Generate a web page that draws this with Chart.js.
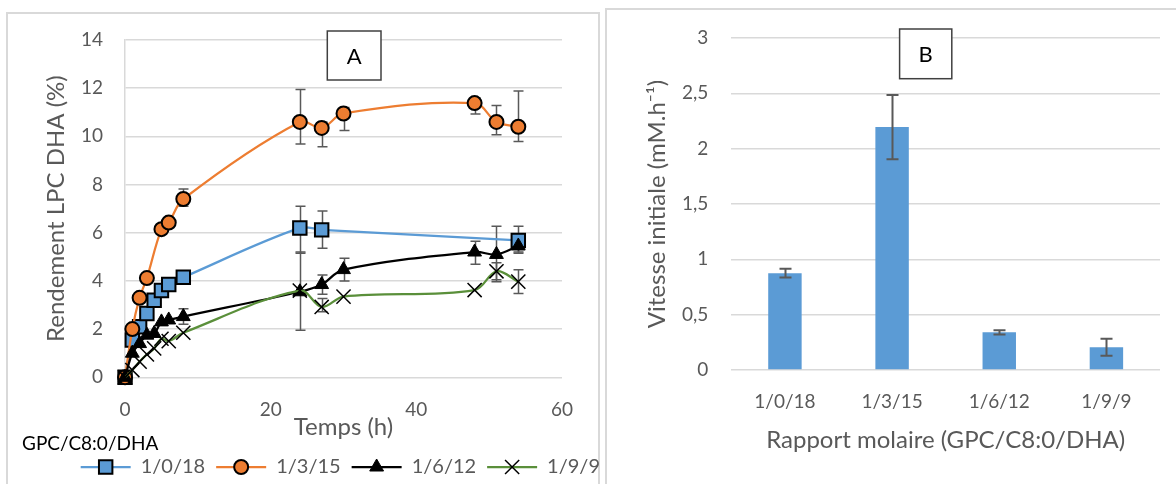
<!DOCTYPE html>
<html><head><meta charset="utf-8">
<script src="https://cdn.jsdelivr.net/npm/chart.js@4/dist/chart.umd.min.js"></script>
<style>
html,body{margin:0;padding:0;background:#fff;overflow:hidden;width:1176px;height:484px;position:relative;}
.panel{position:absolute;border:2px solid #d9d9d9;box-sizing:border-box;}
#panelA{left:6px;top:12px;width:594px;height:500px;}
#panelB{left:605px;top:8px;width:600px;height:500px;}
canvas{position:absolute;}
#cA{left:7px;top:13px;}
#cB{left:606px;top:9px;}
</style></head>
<body>
<div class="panel" id="panelA"></div>
<div class="panel" id="panelB"></div>
<canvas id="cA" width="604" height="474"></canvas>
<canvas id="cB" width="570" height="475"></canvas>
<script>
// ---- Panel A data (Temps h / Rendement LPC DHA %) ----
const seriesNames = ['1/0/18','1/3/15','1/6/12','1/9/9'];
const tBlue = [0,1,2,3,4,5,6,8,24,27,54];
const yBlue = [0,1.55,2.1,2.65,3.2,3.6,3.85,4.15,6.2,6.12,5.68];
const errBlue = [null,null,null,null,null,null,null,null,[5.15,7.1],[5.36,6.9],[5.15,6.27]];
const tOrange = [0,1,2,3,5,6,8,24,27,30,48,51,54];
const yOrange = [0,2.0,3.3,4.12,6.15,6.42,7.4,10.6,10.35,10.95,11.38,10.6,10.4];
const errOrange = [null,null,null,null,null,null,[7.1,7.82],[9.68,11.95],[9.57,10.6],[10.24,11.2],[10.93,11.6],[10.07,11.28],[9.79,11.88]];
const tBlack = [0,1,2,3,4,5,6,8,24,27,30,48,51,54];
const yBlack = [0,1.0,1.4,1.75,1.82,2.3,2.38,2.52,3.55,3.85,4.47,5.2,5.1,5.45];
const errBlack = [null,null,null,null,null,null,null,[2.2,2.85],[1.95,5.2],[3.45,4.25],[4.0,4.94],[4.69,5.65],[3.97,6.27],[5.2,5.7]];
const tGreen = [0,1,2,3,4,5,6,8,24,27,30,48,51,54];
const yGreen = [0,0.3,0.65,0.95,1.2,1.6,1.5,1.85,3.6,2.92,3.35,3.62,4.4,3.97];
const errGreen = [null,null,null,null,null,null,null,null,null,[2.72,3.27],null,null,[4.05,4.75],[3.48,4.46]];
const legendTitle = 'GPC/C8:0/DHA';

// ---- Panel B data ----
const ratios = ['1/0/18','1/3/15','1/6/12','1/9/9'];
const vitesse = [0.875,2.195,0.34,0.205];
const vitesseErr = [0.04,0.29,0.02,0.077];

const FONT = 'Lato';
const GREY = '#595959';
const GRID = '#d9d9d9';

function pts(t,y){ return t.map((v,i)=>({x:v,y:y[i]})); }

const errorBars = {
  id:'errorBars',
  _draw(chart, opts){
    const ctx = chart.ctx, ys = chart.scales.y;
    ctx.save();
    ctx.strokeStyle = opts.color || GREY;
    ctx.lineWidth = opts.width || 1.5;
    chart.data.datasets.forEach((ds,di)=>{
      if(!ds.errors) return;
      const meta = chart.getDatasetMeta(di);
      ds.errors.forEach((e,i)=>{
        if(!e) return;
        const el = meta.data[i];
        const px = Math.round(el.x)+0.5;
        const lo = ys.getPixelForValue(e[0]), hi = ys.getPixelForValue(e[1]);
        const c = opts.cap || 5;
        ctx.beginPath();
        ctx.moveTo(px,lo); ctx.lineTo(px,hi);
        ctx.moveTo(px-c,lo); ctx.lineTo(px+c,lo);
        ctx.moveTo(px-c,hi); ctx.lineTo(px+c,hi);
        ctx.stroke();
      });
    });
    ctx.restore();
  },
  beforeDatasetsDraw(chart,args,opts){ if(opts.layer==='below') this._draw(chart,opts); },
  afterDatasetsDraw(chart,args,opts){ if(opts.layer!=='below') this._draw(chart,opts); }
};

const labelBox = {
  id:'labelBox',
  afterDraw(chart,args,opts){
    if(!opts.text) return;
    const ctx = chart.ctx;
    ctx.save();
    ctx.fillStyle = '#fff';
    ctx.fillRect(opts.x, opts.y, opts.w, opts.h);
    ctx.strokeStyle = '#404040';
    ctx.lineWidth = 1.5;
    ctx.strokeRect(opts.x, opts.y, opts.w, opts.h);
    ctx.fillStyle = '#000';
    ctx.font = '22px ' + FONT;
    ctx.textAlign = 'center';
    ctx.textBaseline = 'middle';
    ctx.fillText(opts.text, opts.x + opts.w/2, opts.y + opts.h/2 + 1);
    ctx.restore();
  }
};

function drawMarker(ctx, ds, x, y){
  const o = {pointStyle:ds.pointStyle, radius:ds.pointRadius, rotation:0, borderWidth:ds.pointBorderWidth};
  ctx.fillStyle = ds.pointBackgroundColor;
  ctx.strokeStyle = ds.pointBorderColor;
  ctx.lineWidth = ds.pointBorderWidth;
  Chart.helpers.drawPoint(ctx, o, x, y);
}

const legendMarks = {
  id:'legendMarks',
  afterDraw(chart){
    const lg = chart.legend;
    if(!lg || !lg.legendHitBoxes) return;
    const ctx = chart.ctx;
    const bw = lg.options.labels.boxWidth;
    lg.legendHitBoxes.forEach((hb,i)=>{
      const ds = chart.data.datasets[i];
      const cy = hb.top + hb.height/2;
      ctx.save();
      ctx.strokeStyle = ds.borderColor;
      ctx.lineWidth = ds.borderWidth;
      ctx.beginPath(); ctx.moveTo(hb.left, cy); ctx.lineTo(hb.left + bw, cy); ctx.stroke();
      drawMarker(ctx, ds, hb.left + bw/2, cy);
      ctx.restore();
    });
  }
};

function lineDs(label, t, y, err, color, style, radius, fill, bw, order){
  return {
    label, data: pts(t,y), errors: err,
    borderColor: color, borderWidth: 2.25, tension: 0.35, fill:false,
    pointStyle: style, pointRadius: radius, pointHoverRadius: radius,
    pointBackgroundColor: fill, pointBorderColor: '#000', pointBorderWidth: bw,
    clip: false, order
  };
}

function noPadV(s){ s.paddingTop = 0; s.paddingBottom = 0; }
function noPadH(s){ s.paddingLeft = 0; s.paddingRight = 0; }

function build(){
  const tickFont = {family:FONT, size:19};
  const titleFont = {family:FONT, size:24, lineHeight:1};

  new Chart(document.getElementById('cA'), {
    type:'line',
    data:{ datasets:[
      lineDs(seriesNames[0], tBlue, yBlue, errBlue, '#5B9BD5', 'rect', 9.5, '#5B9BD5', 2, 4),
      lineDs(seriesNames[1], tOrange, yOrange, errOrange, '#ED7D31', 'circle', 7, '#ED7D31', 2, 3),
      lineDs(seriesNames[2], tBlack, yBlack, errBlack, '#000000', 'triangle', 8, '#000000', 1, 2),
      lineDs(seriesNames[3], tGreen, yGreen, errGreen, '#5A8F3A', 'crossRot', 10, '#000000', 1.5, 1)
    ]},
    options:{
      responsive:false, animation:false, devicePixelRatio:1,
      layout:{padding:{left:15,right:0,top:27,bottom:0}},
      scales:{
        x:{type:'linear', min:0, max:60,
           ticks:{stepSize:20, padding:21, color:GREY, font:tickFont},
           grid:{display:false, drawTicks:false}, border:{display:false},
           title:{display:true, text:'Temps (h)', color:GREY, font:titleFont, padding:{top:-26.8,bottom:0}},
           afterFit: noPadH},
        y:{min:0, max:14,
           ticks:{stepSize:2, padding:22, color:GREY, font:tickFont},
           grid:{color:GRID, lineWidth:1.5, drawTicks:false}, border:{display:true, color:GRID, width:1.5},
           title:{display:true, text:'Rendement LPC DHA (%)', color:GREY, font:titleFont, padding:{top:22.5,bottom:-9.5}},
           afterFit: noPadV},
        yR:{position:'right', display:true, grid:{display:false, drawTicks:false}, border:{display:false},
            ticks:{display:false}, afterFit(s){ s.width = 49; s.paddingTop = 0; s.paddingBottom = 0; }}
      },
      plugins:{
        legend:{display:true, position:'bottom', align:'end', weight:3000,
          labels:{boxWidth:50, boxHeight:14, padding:11, color:GREY, font:{family:FONT,size:20},
            generateLabels(chart){
              return chart.data.datasets.map((ds,i)=>({text:ds.label, fillStyle:'rgba(0,0,0,0)', strokeStyle:'rgba(0,0,0,0)', lineWidth:0, hidden:false, datasetIndex:i, fontColor:GREY}));
            }}},
        subtitle:{display:true, text:legendTitle, position:'bottom', align:'start', color:'#000',
          font:{family:FONT, size:19, lineHeight:1, weight:'normal'}, padding:{top:-4.8,bottom:-7.5}},
        tooltip:{enabled:false},
        errorBars:{layer:'below', color:GREY, width:1.5, cap:5},
        labelBox:{text:'A', x:320.3, y:18, w:53.7, h:49}
      }
    },
    plugins:[errorBars, labelBox, legendMarks]
  });

  new Chart(document.getElementById('cB'), {
    type:'bar',
    data:{ labels: ratios, datasets:[{
      label:'Vitesse initiale', data: vitesse,
      errors: vitesse.map((v,i)=>[v - vitesseErr[i], v + vitesseErr[i]]),
      backgroundColor:'#5B9BD5', borderWidth:0,
      barPercentage:0.312, categoryPercentage:1
    }]},
    options:{
      responsive:false, animation:false, devicePixelRatio:1,
      layout:{padding:{left:0,right:16,top:29,bottom:32}},
      scales:{
        x:{ticks:{padding:20, color:GREY, font:tickFont},
           grid:{display:false, drawTicks:false}, border:{display:false},
           title:{display:true, text:'Rapport molaire (GPC/C8:0/DHA)', color:GREY, font:titleFont, padding:{top:-4.8,bottom:0}},
           afterFit: noPadH},
        y:{min:0, max:3,
           ticks:{stepSize:0.5, padding:23, color:GREY, font:tickFont, callback:v=>String(v).replace('.',',')},
           grid:{color:GRID, lineWidth:1.5, drawTicks:false}, border:{display:false},
           title:{display:true, text:'Vitesse initiale (mM.h\u207B\u00B9)', color:GREY, font:titleFont, padding:{top:39,bottom:-10}},
           afterFit: noPadV}
      },
      plugins:{
        legend:{display:false},
        tooltip:{enabled:false},
        errorBars:{layer:'above', color:GREY, width:2, cap:6},
        labelBox:{text:'B', x:293.6, y:20, w:52.2, h:49.7}
      }
    },
    plugins:[errorBars, labelBox]
  });
}

if (document.fonts && document.fonts.load) {
  Promise.all([document.fonts.load('20px Lato'), document.fonts.load('24px Lato')]).then(build, build);
} else { build(); }
</script>
</body></html>
